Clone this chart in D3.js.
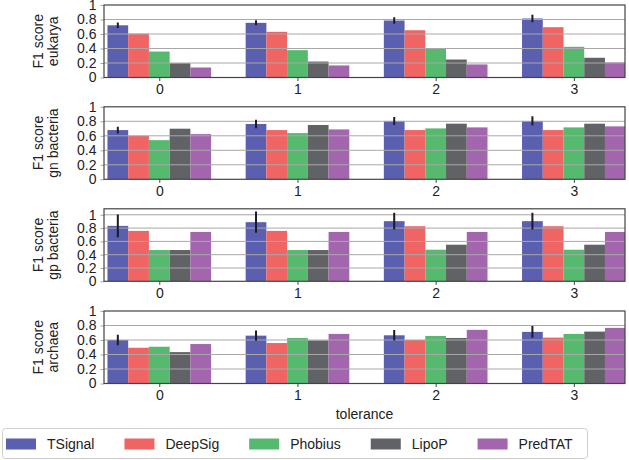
<!DOCTYPE html>
<html>
<head>
<meta charset="utf-8">
<script src="https://cdn.jsdelivr.net/npm/d3@7"></script>
<style>
  html, body { margin: 0; padding: 0; background: #fff; }
  svg { display: block; font-family: "Liberation Sans", Arial, sans-serif; }
</style>
</head>
<body>
<svg id="chart" width="629" height="460"></svg>
<script>
// ---------- data ----------
const tolerances = ["0", "1", "2", "3"];
const methods = ["TSignal", "DeepSig", "Phobius", "LipoP", "PredTAT"];
const methodColors = ["#5a5fb0", "#f06464", "#55b96e", "#616266", "#a265ae"];
const organisms = ["eukarya", "gn bacteria", "gp bacteria", "archaea"];

// rows = methods, columns = tolerance 0..3
const eukaryaScores = [
  [0.72, 0.754, 0.786, 0.814],
  [0.605, 0.63, 0.652, 0.694],
  [0.358, 0.377, 0.395, 0.423],
  [0.197, 0.22, 0.248, 0.272],
  [0.138, 0.166, 0.18, 0.207]
];
const eukaryaErr = [0.037, 0.035, 0.046, 0.053];

const gnBacteriaScores = [
  [0.679, 0.763, 0.805, 0.805],
  [0.60, 0.679, 0.679, 0.679],
  [0.54, 0.637, 0.702, 0.716],
  [0.698, 0.749, 0.767, 0.767],
  [0.623, 0.688, 0.716, 0.73]
];
const gnBacteriaErr = [0.047, 0.058, 0.056, 0.063];

const gpBacteriaScores = [
  [0.833, 0.889, 0.904, 0.904],
  [0.758, 0.758, 0.828, 0.828],
  [0.47, 0.47, 0.475, 0.475],
  [0.47, 0.47, 0.55, 0.55],
  [0.742, 0.742, 0.742, 0.742]
];
const gpBacteriaErr = [0.17, 0.16, 0.126, 0.126];

const archaeaScores = [
  [0.60, 0.66, 0.665, 0.712],
  [0.493, 0.558, 0.60, 0.633],
  [0.507, 0.628, 0.656, 0.684],
  [0.433, 0.595, 0.628, 0.716],
  [0.544, 0.684, 0.74, 0.767]
];
const archaeaErr = [0.072, 0.07, 0.072, 0.081];

const yTicks = [0, 0.2, 0.4, 0.6, 0.8, 1];
const panelScores = [eukaryaScores, gnBacteriaScores, gpBacteriaScores, archaeaScores];
const panelErrs = [eukaryaErr, gnBacteriaErr, gpBacteriaErr, archaeaErr];
const panelYMax = [1, 1, 1.09, 1];

// ---------- layout ----------
const svg = d3.select("#chart");
const left = 104, right = 625;
const panelTops = [5, 106.8, 208.8, 311];
const panelH = 72.5;
const barW = 0.15;
const textColor = "#222";
const gridColor = "#a8a8a8";

const x = d3.scaleLinear().domain([-0.4, 3.37]).range([left, right]);

panelScores.forEach((scores, p) => {
  const top = panelTops[p];
  const bottom = top + panelH;
  const y = d3.scaleLinear().domain([0, panelYMax[p]]).range([bottom, top]);
  const g = svg.append("g");

  const clipId = "clip" + p;
  g.append("clipPath").attr("id", clipId)
    .append("rect").attr("x", left).attr("y", top).attr("width", right - left).attr("height", panelH);

  const plot = g.append("g").attr("clip-path", `url(#${clipId})`);

  // bars
  methods.forEach((m, k) => {
    plot.selectAll(null)
      .data(scores[k])
      .enter().append("rect")
      .attr("x", (d, i) => x(i + (k - 2.5) * barW))
      .attr("width", x(barW) - x(0))
      .attr("y", d => y(d))
      .attr("height", d => y(0) - y(d))
      .attr("fill", methodColors[k]);
  });

  // grid lines (above bars, like matplotlib default)
  plot.selectAll(null)
    .data(yTicks.filter(t => t > 0 && t < panelYMax[p]))
    .enter().append("line")
    .attr("x1", left).attr("x2", right)
    .attr("y1", d => y(d)).attr("y2", d => y(d))
    .attr("stroke", gridColor).attr("stroke-width", 1);

  // error bars for TSignal
  plot.selectAll(null)
    .data(panelErrs[p])
    .enter().append("line")
    .attr("x1", (d, i) => x(i - 2 * barW))
    .attr("x2", (d, i) => x(i - 2 * barW))
    .attr("y1", (d, i) => y(scores[0][i] - d))
    .attr("y2", (d, i) => y(scores[0][i] + d))
    .attr("stroke", "#1a1a2a").attr("stroke-width", 2);

  // y axis
  const yAxis = d3.axisLeft(y).tickValues(yTicks).tickFormat(d => d3.format("~g")(d))
    .tickSize(3.5).tickPadding(4);
  const ya = g.append("g").attr("transform", `translate(${left},0)`).call(yAxis);
  ya.select(".domain").remove();
  ya.selectAll(".tick line").attr("stroke", gridColor);
  ya.selectAll(".tick text").attr("fill", textColor)
    .style("font-size", "14px").style("font-family", "'Liberation Sans', Arial, sans-serif");

  // x axis
  const xAxis = d3.axisBottom(x).tickValues([0, 1, 2, 3]).tickFormat(i => tolerances[i])
    .tickSize(3.5).tickPadding(3);
  const xa = g.append("g").attr("transform", `translate(0,${bottom})`).call(xAxis);
  xa.select(".domain").remove();
  xa.selectAll(".tick line").attr("stroke", "#444");
  xa.selectAll(".tick text").attr("fill", textColor)
    .style("font-size", "14px").style("font-family", "'Liberation Sans', Arial, sans-serif");

  // frame
  g.append("rect").attr("x", left).attr("y", top).attr("width", right - left).attr("height", panelH)
    .attr("fill", "none").attr("stroke", "#444").attr("stroke-width", 1.2);

  // y label
  const cy = (top + bottom) / 2;
  const lab = g.append("text")
    .attr("transform", `translate(45,${cy}) rotate(-90)`)
    .attr("text-anchor", "middle")
    .attr("fill", textColor)
    .style("font-size", "14px");
  lab.append("tspan").attr("x", 0).attr("dy", "-0.12em").text("F1 score");
  lab.append("tspan").attr("x", 0).attr("dy", "1.08em").text(organisms[p]);
});

// x axis title
svg.append("text")
  .attr("x", (left + right) / 2).attr("y", 419)
  .attr("text-anchor", "middle").attr("fill", textColor)
  .style("font-size", "14px").text("tolerance");

// legend
const legend = svg.append("g");
legend.append("rect")
  .attr("x", 2.5).attr("y", 428.5).attr("width", 585).attr("height", 30)
  .attr("rx", 3).attr("fill", "#fff").attr("stroke", "#cfcfcf").attr("stroke-width", 1);
let lx = 6;
methods.forEach((m, k) => {
  legend.append("rect")
    .attr("x", lx).attr("y", 438.5).attr("width", 30).attr("height", 11)
    .attr("fill", methodColors[k]);
  const t = legend.append("text")
    .attr("x", lx + 41).attr("y", 449)
    .attr("fill", textColor).style("font-size", "14px").text(m);
  lx = lx + 41 + t.node().getComputedTextLength() + 30;
});
</script>
</body>
</html>
